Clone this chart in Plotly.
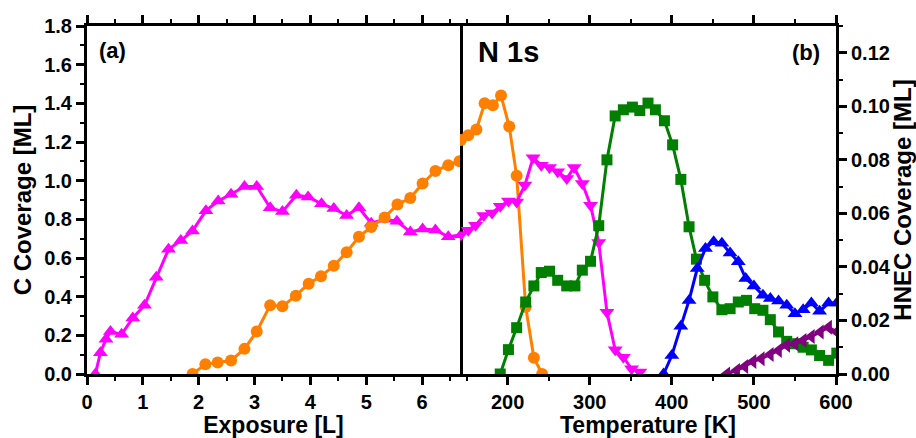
import plotly.graph_objects as go

# ---------- data ----------
# Panel (a): exposure [L] vs C coverage [ML]
exp_tri = [0.15, 0.24, 0.34, 0.42, 0.62, 0.82, 1.03, 1.24, 1.46, 1.68, 1.89, 2.13, 2.35, 2.58, 2.82, 3.04,
           3.28, 3.50, 3.75, 3.96, 4.20, 4.42, 4.65, 4.87, 5.09, 5.33, 5.55, 5.79, 6.01, 6.24, 6.47, 6.70]
cov_tri = [0.0, 0.11, 0.18, 0.22, 0.205, 0.29, 0.355, 0.50, 0.645, 0.69, 0.74, 0.845, 0.895, 0.93, 0.97, 0.97,
           0.86, 0.84, 0.925, 0.916, 0.88, 0.856, 0.82, 0.86, 0.78, 0.80, 0.79, 0.735, 0.75, 0.745, 0.71, 0.72]
exp_circ = [1.89, 2.12, 2.34, 2.58, 2.82, 3.04, 3.28, 3.50, 3.74, 3.97, 4.19, 4.42, 4.65, 4.87, 5.09,
            5.33, 5.56, 5.79, 6.01, 6.24, 6.47, 6.67]
cov_circ = [0.0, 0.05, 0.06, 0.07, 0.13, 0.22, 0.355, 0.35, 0.405, 0.467, 0.505, 0.56, 0.63, 0.71, 0.76,
            0.81, 0.877, 0.91, 0.985, 1.05, 1.08, 1.10]

# Panel (b): temperature [K]
t_orange = [143, 152, 162, 172, 182, 192, 202, 211, 222, 232, 242]
c_orange = [1.21, 1.235, 1.265, 1.40, 1.39, 1.44, 1.28, 1.025, 0.346, 0.084, 0.0]
t_magenta = [143, 152, 161, 171, 181, 191, 201, 211, 221, 231, 241, 251, 261, 272, 281, 291, 301, 311,
             321, 331, 341, 351, 361]
c_magenta = [0.72, 0.743, 0.77, 0.82, 0.833, 0.868, 0.895, 0.89, 0.977, 1.118, 1.08, 1.068, 1.046, 1.011,
             1.068, 0.985, 0.873, 0.68, 0.32, 0.125, 0.087, 0.027, 0.01]
t_green = [191, 201, 211, 222, 232, 241, 251, 261, 272, 282, 291, 301, 311, 321, 331, 341, 352, 361, 371, 380,
           391, 401, 411, 421, 430, 440, 450, 461, 471, 481, 491, 501, 511, 520, 530, 540, 550, 560, 570, 580,
           591, 601]
h_green = [0.0, 0.0091, 0.0173, 0.0269, 0.0329, 0.0379, 0.0384, 0.035, 0.0329, 0.0329, 0.0388, 0.0421, 0.0554,
           0.080, 0.0964, 0.0987, 0.0997, 0.0984, 0.1012, 0.0987, 0.0946, 0.0856, 0.0727, 0.055, 0.0429, 0.035,
           0.0288, 0.024, 0.0244, 0.0269, 0.0275, 0.0244, 0.0238, 0.0203, 0.0157, 0.0122, 0.0113, 0.010, 0.009,
           0.0069, 0.0051, 0.0078]
t_blue = [390, 400, 411, 421, 431, 441, 451, 461, 471, 481, 490, 500, 511, 520, 530, 540, 550, 560, 570, 580,
          591, 601]
h_blue = [0.0, 0.0069, 0.0178, 0.0275, 0.0394, 0.0469, 0.0494, 0.0488, 0.0452, 0.0419, 0.0357, 0.0329, 0.0294,
          0.0282, 0.0273, 0.0257, 0.0225, 0.024, 0.0265, 0.0234, 0.0265, 0.0265]
t_purple = [467, 479, 489, 499, 509, 520, 530, 540, 550, 560, 570, 581, 591, 601]
h_purple = [0.0, 0.0013, 0.0028, 0.0047, 0.0057, 0.0073, 0.0088, 0.0107, 0.0113, 0.0125, 0.014, 0.0157,
            0.0175, 0.0157]

# ---------- styles ----------
FONT = "Liberation Sans, Arial, sans-serif"
ORANGE = "#FF7F00"
MAGENTA = "#FF00FF"
GREEN = "#007F00"
BLUE = "#0000FF"
PURPLE = "#800080"
LW = 3

fig = go.Figure()


def add(x, y, color, symbol, size, xa, ya):
    fig.add_trace(go.Scatter(
        x=x, y=y, mode="lines+markers", xaxis=xa, yaxis=ya,
        line=dict(color=color, width=LW),
        marker=dict(color=color, symbol=symbol, size=size, line=dict(width=0)),
        showlegend=False))


add(exp_tri, cov_tri, MAGENTA, "triangle-up", 13, "x", "y")
add(exp_circ, cov_circ, ORANGE, "circle", 12, "x", "y")
add(t_orange, c_orange, ORANGE, "circle", 12, "x2", "y")
add(t_magenta, c_magenta, MAGENTA, "triangle-down", 13, "x2", "y")
add(t_green, h_green, GREEN, "square", 11, "x2", "y2")
add(t_blue, h_blue, BLUE, "triangle-up", 13, "x2", "y2")
add(t_purple, h_purple, PURPLE, "triangle-left", 13, "x2", "y2")

tickfont = dict(family=FONT, size=20, color="black", weight="bold")
titlefont = dict(family=FONT, size=23, color="black", weight="bold")
ytitlefont = dict(family=FONT, size=24, color="black", weight="bold")
common = dict(showline=True, linewidth=3, linecolor="black", ticks="outside", ticklen=8, tickwidth=2.5,
              tickcolor="black", showgrid=False, zeroline=False, tickfont=tickfont, automargin=False)

split = 373 / 749
fig.update_layout(
    width=916, height=438,
    margin=dict(l=87, r=80, t=26, b=64, pad=0),
    plot_bgcolor="white", paper_bgcolor="white",
    xaxis=dict(domain=[0, split], range=[0, 6.68], dtick=1, anchor="y", mirror="ticks",
               minor=dict(dtick=0.5, ticklen=4, tickwidth=2, tickcolor="black", ticks="outside"),
               title=dict(text="Exposure [L]", font=titlefont, standoff=4), **common),
    xaxis2=dict(domain=[split, 1], range=[142, 600], dtick=100, anchor="y2", mirror="ticks",
                minor=dict(dtick=50, ticklen=4, tickwidth=2, tickcolor="black", ticks="outside"),
                title=dict(text="Temperature [K]", font=titlefont, standoff=4), **common),
    yaxis=dict(range=[0, 1.8], dtick=0.2, tickformat=".1f", anchor="x", mirror=True,
               minor=dict(dtick=0.1, ticklen=4, tickwidth=2, tickcolor="black", ticks="outside"),
               title=dict(text="C Coverage [ML]", font=ytitlefont, standoff=6), **common),
    yaxis2=dict(range=[0, 0.13], dtick=0.02, tickformat=".2f", anchor="x2", side="right",
                overlaying="y", mirror=False,
                minor=dict(dtick=0.01, ticklen=4, tickwidth=2, tickcolor="black", ticks="outside"),
                title=dict(text="HNEC Coverage [ML]", font=ytitlefont, standoff=6), **common),
    annotations=[
        dict(text="(a)", xref="paper", yref="paper", x=0.013, y=0.93, xanchor="left", yanchor="middle",
             showarrow=False, font=dict(family=FONT, size=22, color="black", weight="bold")),
        dict(text="N 1s", xref="paper", yref="paper", x=0.519, y=0.925, xanchor="left", yanchor="middle",
             showarrow=False, font=dict(family=FONT, size=29, color="black", weight="bold")),
        dict(text="(b)", xref="paper", yref="paper", x=0.981, y=0.925, xanchor="right", yanchor="middle",
             showarrow=False, font=dict(family=FONT, size=22, color="black", weight="bold")),
    ],
)

fig.write_html("out.html")
